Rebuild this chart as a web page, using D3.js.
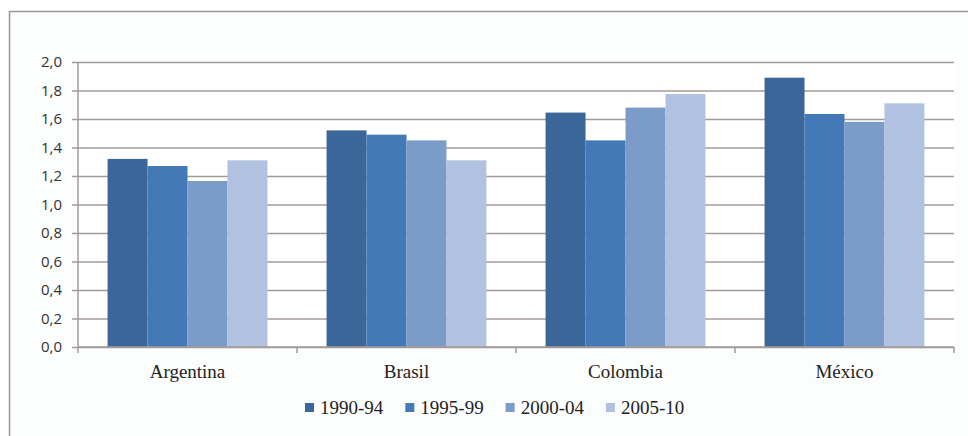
<!DOCTYPE html>
<html><head><meta charset="utf-8">
<script src="https://cdn.jsdelivr.net/npm/d3@7"></script>
<style>html,body{margin:0;padding:0;background:#fff;}</style>
</head><body>
<svg id="c" width="968" height="436"></svg>
<script>
const categories = ["Argentina", "Brasil", "Colombia", "México"];
const seriesNames = ["1990-94", "1995-99", "2000-04", "2005-10"];
const s1990 = [1.32, 1.52, 1.645, 1.89];
const s1995 = [1.27, 1.49, 1.45, 1.635];
const s2000 = [1.165, 1.45, 1.68, 1.58];
const s2005 = [1.31, 1.31, 1.775, 1.71];
const yTicks = [0, 0.2, 0.4, 0.6, 0.8, 1.0, 1.2, 1.4, 1.6, 1.8, 2.0];
const colors = ["#3A6699", "#4279B6", "#7B9CC9", "#B0C2DF"];
const series = [s1990, s1995, s2000, s2005];

const svg = d3.select("#c");
// outer frame
svg.append("rect").attr("x", 9.5).attr("y", 11.5).attr("width", 980).attr("height", 440)
  .attr("fill", "#fcfdfd").attr("stroke", "#9a9a9a").attr("stroke-width", 1.5);

const L = 78, R = 954, T = 62, B = 347;
svg.append("rect").attr("x", L).attr("y", T - 6).attr("width", R - L).attr("height", B - T + 6).attr("fill", "#fff");

const y = d3.scaleLinear().domain([0, 2]).range([B, T]);
const x0 = d3.scaleBand().domain(categories).range([L, R]).paddingInner(0.27).paddingOuter(0.135);
const x1 = d3.scaleBand().domain(seriesNames).range([0, x0.bandwidth()]);

// gridlines + left ticks
const gy = svg.append("g").attr("transform", `translate(${L},0)`)
  .call(d3.axisLeft(y).tickValues(yTicks).tickSize(-(R - L)).tickSizeOuter(0)
    .tickFormat(d => d3.format(".1f")(d).replace(".", ",")));
gy.select(".domain").remove();
gy.selectAll(".tick line").attr("stroke", "#a39b98").attr("stroke-width", 1.5).attr("x1", -6);
gy.selectAll(".tick text").attr("x", -16).attr("font-family", "'Open Sans', sans-serif")
  .attr("font-size", 15).attr("fill", "#333");
svg.append("line").attr("x1", L).attr("x2", L).attr("y1", T).attr("y2", B)
  .attr("stroke", "#a39b98").attr("stroke-width", 1.5);

// bars
const groups = svg.append("g").selectAll("g").data(categories).join("g")
  .attr("transform", d => `translate(${x0(d)},0)`);
groups.selectAll("rect").data((c, i) => series.map((s, k) => ({k, name: seriesNames[k], v: s[i]})))
  .join("rect")
  .attr("x", d => x1(d.name)).attr("width", x1.bandwidth())
  .attr("y", d => y(d.v)).attr("height", d => B - y(d.v))
  .attr("fill", d => colors[d.k]);

// bottom axis
const band = (R - L) / categories.length;
const xb = svg.append("g").attr("transform", `translate(0,${B})`);
xb.append("line").attr("x1", L).attr("x2", R).attr("stroke", "#a39b98").attr("stroke-width", 1.5);
d3.range(categories.length + 1).forEach(i => {
  xb.append("line").attr("x1", L + i * band).attr("x2", L + i * band).attr("y1", 0).attr("y2", 6)
    .attr("stroke", "#a39b98").attr("stroke-width", 1.5);
});
xb.selectAll("text.cat").data(categories).join("text").attr("class", "cat")
  .attr("x", d => x0(d) + x0.bandwidth() / 2).attr("y", 31)
  .attr("text-anchor", "middle").attr("font-family", "'Liberation Serif', serif")
  .attr("font-size", 19).attr("fill", "#222").text(d => d);

// legend
const lg = svg.append("g");
let lx = 305;
seriesNames.forEach((n, k) => {
  lg.append("rect").attr("x", lx).attr("y", 403).attr("width", 9).attr("height", 9).attr("fill", colors[k]);
  const t = lg.append("text").attr("x", lx + 15).attr("y", 414)
    .attr("font-family", "'Liberation Serif', serif").attr("font-size", 19).attr("fill", "#222").text(n);
  lx += 15 + t.node().getComputedTextLength() + 22;
});
</script>
</body></html>
